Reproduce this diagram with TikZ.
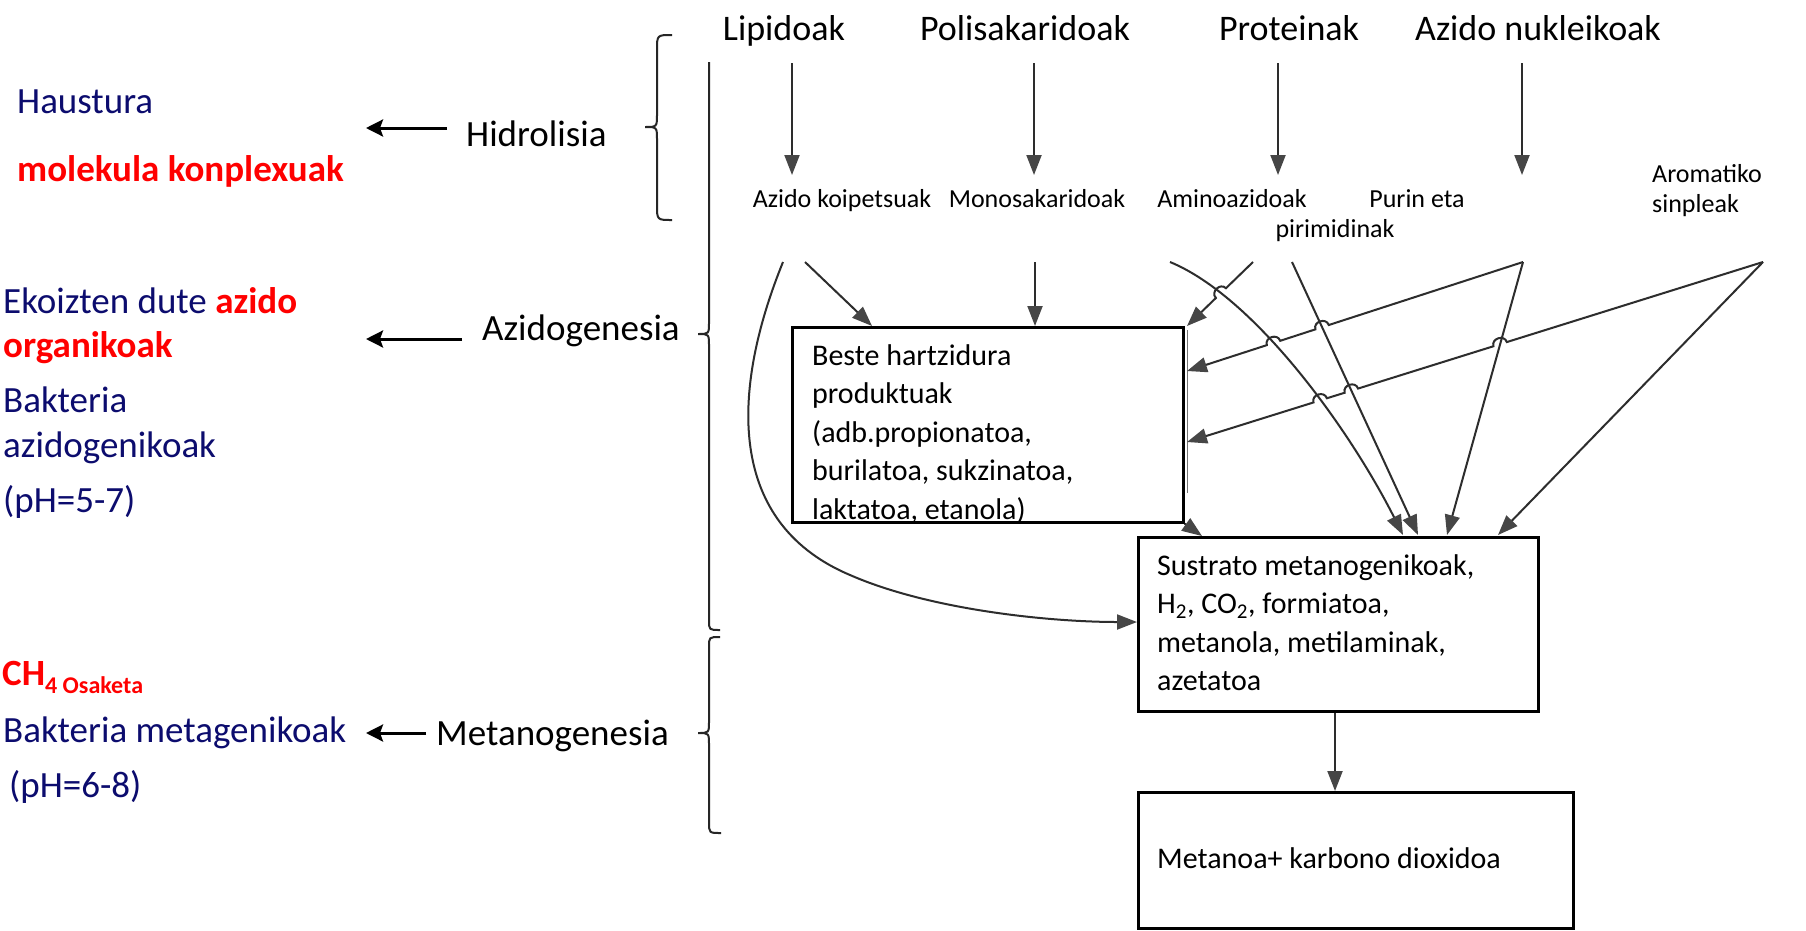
\documentclass[tikz,border=0pt]{standalone}
\usepackage{fontspec}
\setmainfont{Carlito}
\usetikzlibrary{arrows.meta,calc,intersections}
\definecolor{navyt}{RGB}{12,12,110}
\definecolor{redt}{RGB}{255,0,0}
\definecolor{linec}{RGB}{45,45,45}
\definecolor{headc}{RGB}{70,70,70}
\begin{document}
\begin{tikzpicture}[x=1pt,y=1pt,
  lbl/.style={inner sep=0pt, anchor=base west},
  clbl/.style={inner sep=0pt, anchor=base},
  big/.style={font=\fontsize{36}{43}\selectfont},
  lft/.style={font=\fontsize{37}{44}\selectfont},
  lftb/.style={font=\fontsize{37}{44}\selectfont\bfseries},
  mid/.style={font=\fontsize{26}{31}\selectfont},
  boxt/.style={font=\fontsize{30}{38.5}\selectfont},
  box/.style={draw=black, line width=2.6pt, anchor=north west, inner sep=0pt},
  conn/.style={draw=linec, line width=2pt},
  arr/.style={conn, -{Triangle[length=20pt,width=15pt,fill=headc,color=headc]}},
  rarr/.style={conn, {Triangle[length=20pt,width=15pt,fill=headc,color=headc]}-},
  hop/.style={bend left=90, looseness=1.5},
  larr/.style={draw=black, line width=3pt, -{Stealth[length=17pt,width=17pt,inset=3pt]}},
  brc/.style={draw=black!85, line width=2pt}
]
\fill[white] (0,0) rectangle (1806,-930);
\useasboundingbox (0,0) rectangle (1806,-930);

% ---------- top labels ----------
\node[clbl,big] (lip) at (784,-40) {Lipidoak};
\node[clbl,big] (pol) at (1025,-40) {Polisakaridoak};
\node[clbl,big] (pro) at (1289,-40) {Proteinak};
\node[clbl,big] (anu) at (1538,-40) {Azido nukleikoak};

\node[clbl,mid] (akp) at (842,-207) {Azido koipetsuak};
\node[clbl,mid] (mon) at (1037,-207) {Monosakaridoak};
\node[clbl,mid] (ami) at (1232,-207) {Aminoazidoak};
\node[clbl,mid] (pur) at (1417,-207) {Purin eta};
\node[clbl,mid] (pir) at (1335,-237) {pirimidinak};
\node[lbl,mid] (aro) at (1652,-182) {Aromatiko};
\node[lbl,mid] (sin) at (1652,-212) {sinpleak};

% down arrows
\coordinate (lipA) at (792,-63);  \coordinate (lipB) at (792,-175);
\coordinate (polA) at (1034,-63); \coordinate (polB) at (1034,-175);
\coordinate (proA) at (1278,-63); \coordinate (proB) at (1278,-175);
\coordinate (anuA) at (1522,-63); \coordinate (anuB) at (1522,-175);
\draw[arr] (lipA) -- (lipB);
\draw[arr] (polA) -- (polB);
\draw[arr] (proA) -- (proB);
\draw[arr] (anuA) -- (anuB);

% ---------- left texts ----------
\node[lbl,lft,text=navyt] (hau) at (17,-113) {Haustura};
\node[lbl,lftb,text=redt] (mol) at (17,-181) {molekula konplexuak};
\node[lbl,lft,text=navyt] (eko) at (3,-313) {Ekoizten dute \textcolor{redt}{\bfseries azido}};
\node[lbl,lftb,text=redt] (org) at (3,-357) {organikoak};
\node[lbl,lft,text=navyt] (bak1) at (3,-412) {Bakteria};
\node[lbl,lft,text=navyt] (azg) at (3,-457) {azidogenikoak};
\node[lbl,lft,text=navyt] (ph1) at (3,-512) {(pH=5-7)};
\node[lbl,lftb,text=redt] (ch4) at (2,-685) {CH\raisebox{-8pt}{\fontsize{24}{24}\selectfont 4 Osaketa}};
\node[lbl,lft,text=navyt] (bak2) at (3,-742) {Bakteria metagenikoak};
\node[lbl,lft,text=navyt] (ph2) at (9,-797) {(pH=6-8)};

\node[lbl,lft] (hid) at (466,-146) {Hidrolisia};
\node[lbl,lft] (azd) at (482,-340) {Azidogenesia};
\node[lbl,lft] (met) at (436,-745) {Metanogenesia};

\coordinate (hidA) at (447,-128); \coordinate (hidB) at (366,-128);
\coordinate (azdA) at (462,-339); \coordinate (azdB) at (366,-339);
\coordinate (metA) at (426,-733); \coordinate (metB) at (366,-733);
\draw[larr] (hidA) -- (hidB);
\draw[larr] (azdA) -- (azdB);
\draw[larr] (metA) -- (metB);

% ---------- braces ----------
\draw[brc] (672,-35) .. controls (657,-35) .. (657,-50) -- (657,-114)
  .. controls (657,-127) .. (645,-127) .. controls (657,-127) .. (657,-140)
  -- (657,-205) .. controls (657,-220) .. (672,-220);
\draw[brc] (709,-62) -- (709,-322) .. controls (709,-334) .. (698,-334)
  .. controls (709,-334) .. (709,-346) -- (709,-620)
  .. controls (709,-630) .. (720,-630);
\draw[brc] (720,-637) .. controls (709,-637) .. (709,-647) -- (709,-721)
  .. controls (709,-733) .. (698,-733) .. controls (709,-733) .. (709,-745)
  -- (709,-822) .. controls (709,-833) .. (721,-833);

% ---------- boxes ----------
\node[box, minimum width=391pt, minimum height=195pt] (b1) at (791,-326) {};
\node[lbl,boxt] (b1t) at (812,-365) {\begin{tabular}[t]{@{}l@{}}Beste hartzidura\\ produktuak\\ (adb.propionatoa,\\ burilatoa, sukzinatoa,\\ laktatoa, etanola)\end{tabular}};
\draw[line width=1pt, black!55] (1187,-330) -- (1187,-493);

\node[box, minimum width=400pt, minimum height=174pt] (b2) at (1137,-536) {};
\node[lbl,boxt] (b2t) at (1157,-575) {\begin{tabular}[t]{@{}l@{}}Sustrato metanogenikoak,\\ H\textsubscript{2}, CO\textsubscript{2}, formiatoa,\\ metanola, metilaminak,\\ azetatoa\end{tabular}};

\node[box, minimum width=435pt, minimum height=136pt] (b3) at (1137,-791) {};
\node[lbl,boxt] (b3t) at (1157,-868) {Metanoa+ karbono dioxidoa};

\draw[arr] (b2.south -| 1335,0) -- (b3.north -| 1335,0);
\draw[arr] (b1.south east) -- (b2.north -| 1202,0);

% ---------- connectors into boxes ----------
\coordinate (kS) at (805,-262);
\coordinate (mS) at (1035,-262);
\coordinate (cvS) at (783,-262);
\draw[arr] (kS) -- (b1.north -| 872,0);
\draw[arr] (mS) -- (b1.north -| 1035,0);
\draw[arr] (cvS) .. controls (735,-380) and (720,-520) .. (850,-575)
  .. controls (930,-610) and (1050,-622) .. (b2.west |- 0,-622);

\coordinate (aS) at (1170,-262); \coordinate (aE) at (1403,-535);
\coordinate (bS) at (1253,-262); \coordinate (bE) at (1187,-326);
\coordinate (cS) at (1292,-262); \coordinate (cE) at (1418,-535);
\coordinate (dS) at (1523,-262); \coordinate (dE) at (1187,-371);
\coordinate (eS) at (1523,-262); \coordinate (eE) at (1447,-535);
\coordinate (fS) at (1763,-262); \coordinate (fE) at (1187,-442);
\coordinate (gS) at (1763,-262); \coordinate (gE) at (1498,-535);

\path[name path=pa] (aS) .. controls (1255,-297) and (1350,-430) .. (aE);
\path[name path=pb] (bS) -- (bE);
\path[name path=pc] (cS) -- (cE);
\path[name path=pd] (dS) -- (dE);
\path[name path=pe] (eS) -- (eE);
\path[name path=pf] (fS) -- (fE);
\path[name intersections={of=pa and pb, by=xab}];
\path[name intersections={of=pa and pd, by=xad}];
\path[name intersections={of=pc and pd, by=xcd}];
\path[name intersections={of=pa and pf, by=xaf}];
\path[name intersections={of=pc and pf, by=xcf}];
\path[name intersections={of=pe and pf, by=xef}];

\draw[arr] (aS) .. controls (1255,-297) and (1350,-430) .. (aE);
\draw[arr] (cS) -- (cE);
\draw[arr] (eS) -- (eE);
\draw[arr] (gS) -- (gE);
\draw[rarr] (bE) -- ($(xab)!7pt!(bE)$) to[hop] ($(xab)!7pt!(bS)$) -- (bS);
\draw[rarr] (dE) -- ($(xad)!7pt!(dE)$) to[hop] ($(xad)!7pt!(dS)$)
  -- ($(xcd)!7pt!(dE)$) to[hop] ($(xcd)!7pt!(dS)$) -- (dS);
\draw[rarr] (fE) -- ($(xaf)!7pt!(fE)$) to[hop] ($(xaf)!7pt!(fS)$)
  -- ($(xcf)!7pt!(fE)$) to[hop] ($(xcf)!7pt!(fS)$)
  -- ($(xef)!7pt!(fE)$) to[hop] ($(xef)!7pt!(fS)$) -- (fS);
\end{tikzpicture}
\end{document}
